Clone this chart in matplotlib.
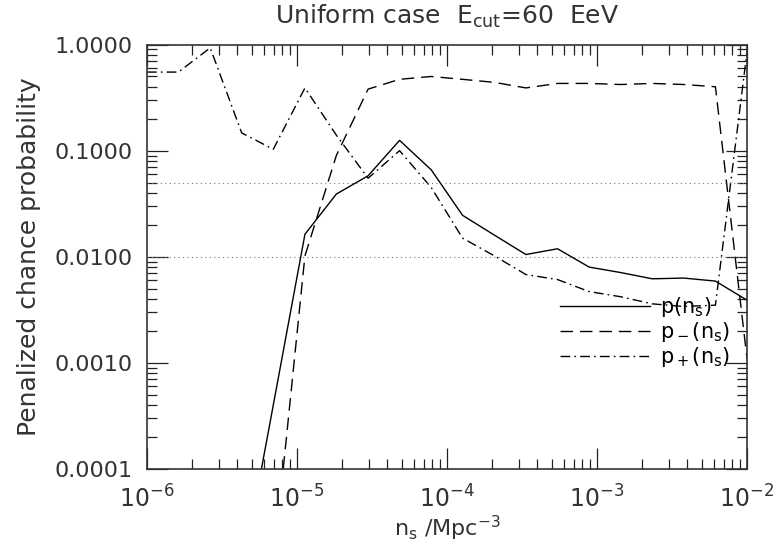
import matplotlib
matplotlib.use('Agg')
import matplotlib.pyplot as plt
from matplotlib.ticker import LogLocator, FixedLocator, FormatStrFormatter, NullFormatter

plt.rcParams['font.family'] = ['DejaVu Sans']
plt.rcParams['mathtext.default'] = 'regular'

# source density grid (Mpc^-3)
n_s = [1.00e-6, 1.62e-6, 2.64e-6, 4.28e-6, 6.95e-6, 1.13e-5, 1.83e-5, 2.98e-5,
       4.83e-5, 7.85e-5, 1.27e-4, 2.07e-4, 3.36e-4, 5.46e-4, 8.86e-4, 1.44e-3,
       2.34e-3, 3.79e-3, 6.16e-3, 1.00e-2]

# penalized chance probabilities
p_tot = [1e-6, 1e-6, 1e-6, 1.0e-5, 4.0e-4, 0.0163, 0.039, 0.058,
         0.125, 0.066, 0.0246, 0.016, 0.0105, 0.0119, 0.0080, 0.0071,
         0.0062, 0.0063, 0.0059, 0.0039]
p_minus = [1e-6, 1e-6, 1e-6, 1e-6, 1.2e-5, 0.0102, 0.09, 0.38,
           0.47, 0.50, 0.47, 0.44, 0.39, 0.43, 0.43, 0.42,
           0.43, 0.42, 0.40, 0.0011]
p_plus = [0.55, 0.55, 0.93, 0.147, 0.103, 0.39, 0.14, 0.055,
          0.10, 0.045, 0.0150, 0.0102, 0.0068, 0.0061, 0.0047, 0.0042,
          0.0036, 0.0034, 0.0035, 0.85]

levels = [0.05, 0.01]
ytick_vals = [1e-4, 1e-3, 1e-2, 1e-1, 1.0]
xtick_vals = [1e-6, 1e-5, 1e-4, 1e-3, 1e-2]

fig = plt.figure(figsize=(7.76, 5.45), dpi=100)
ax = fig.add_axes([0.1894, 0.1394, 0.7732, 0.7789])

lw = 1.0
ax.plot(n_s, p_tot, color='black', lw=lw, label='p(n$_s$)')
ax.plot(n_s, p_minus, color='black', lw=lw, dashes=(9, 5), label='p$_-$(n$_s$)')
ax.plot(n_s, p_plus, color='black', lw=lw, dashes=(7, 3, 1.2, 3), label='p$_+$(n$_s$)')
for lev in levels:
    ax.axhline(lev, color='#777777', lw=0.8, dashes=(1, 3))

ax.set_xscale('log')
ax.set_yscale('log')
ax.set_xlim(1e-6, 1e-2)
ax.set_ylim(1e-4, 1.0)

ax.xaxis.set_major_locator(FixedLocator(xtick_vals))
ax.xaxis.set_minor_locator(LogLocator(base=10, subs=range(2, 10), numticks=20))
ax.xaxis.set_minor_formatter(NullFormatter())
ax.set_xticklabels([r'$10^{-6}$', r'$10^{-5}$', r'$10^{-4}$', r'$10^{-3}$', r'$10^{-2}$'])
ax.yaxis.set_major_locator(FixedLocator(ytick_vals))
ax.yaxis.set_minor_locator(LogLocator(base=10, subs=range(2, 10), numticks=20))
ax.yaxis.set_major_formatter(FormatStrFormatter('%.4f'))
ax.yaxis.set_minor_formatter(NullFormatter())

ax.tick_params(which='both', direction='in', top=True, right=True, colors='#222222',
               labelcolor='#333333', width=0.9)
ax.tick_params(axis='y', labelsize=16)
ax.tick_params(axis='x', labelsize=17)
ax.tick_params(which='major', length=15, pad=10)
ax.tick_params(axis='x', which='major', pad=12)
ax.tick_params(which='minor', length=7)
for sp in ax.spines.values():
    sp.set_linewidth(1.2)
    sp.set_color('#333333')

ax.set_title('Uniform case  E$_{cut}$=60  EeV', fontsize=18, color='#333333', pad=15)
ax.set_xlabel('n$_s$ /Mpc$^{-3}$', fontsize=16, color='#333333', labelpad=1)
ax.set_ylabel('Penalized chance probability', fontsize=18, color='#333333', labelpad=10)

ax.legend(loc='upper left', bbox_to_anchor=(0.675, 0.43), frameon=False, fontsize=15,
          handlelength=4.3, handletextpad=0.5, labelspacing=0.05, borderaxespad=0)

plt.savefig('out.png', dpi=100)
